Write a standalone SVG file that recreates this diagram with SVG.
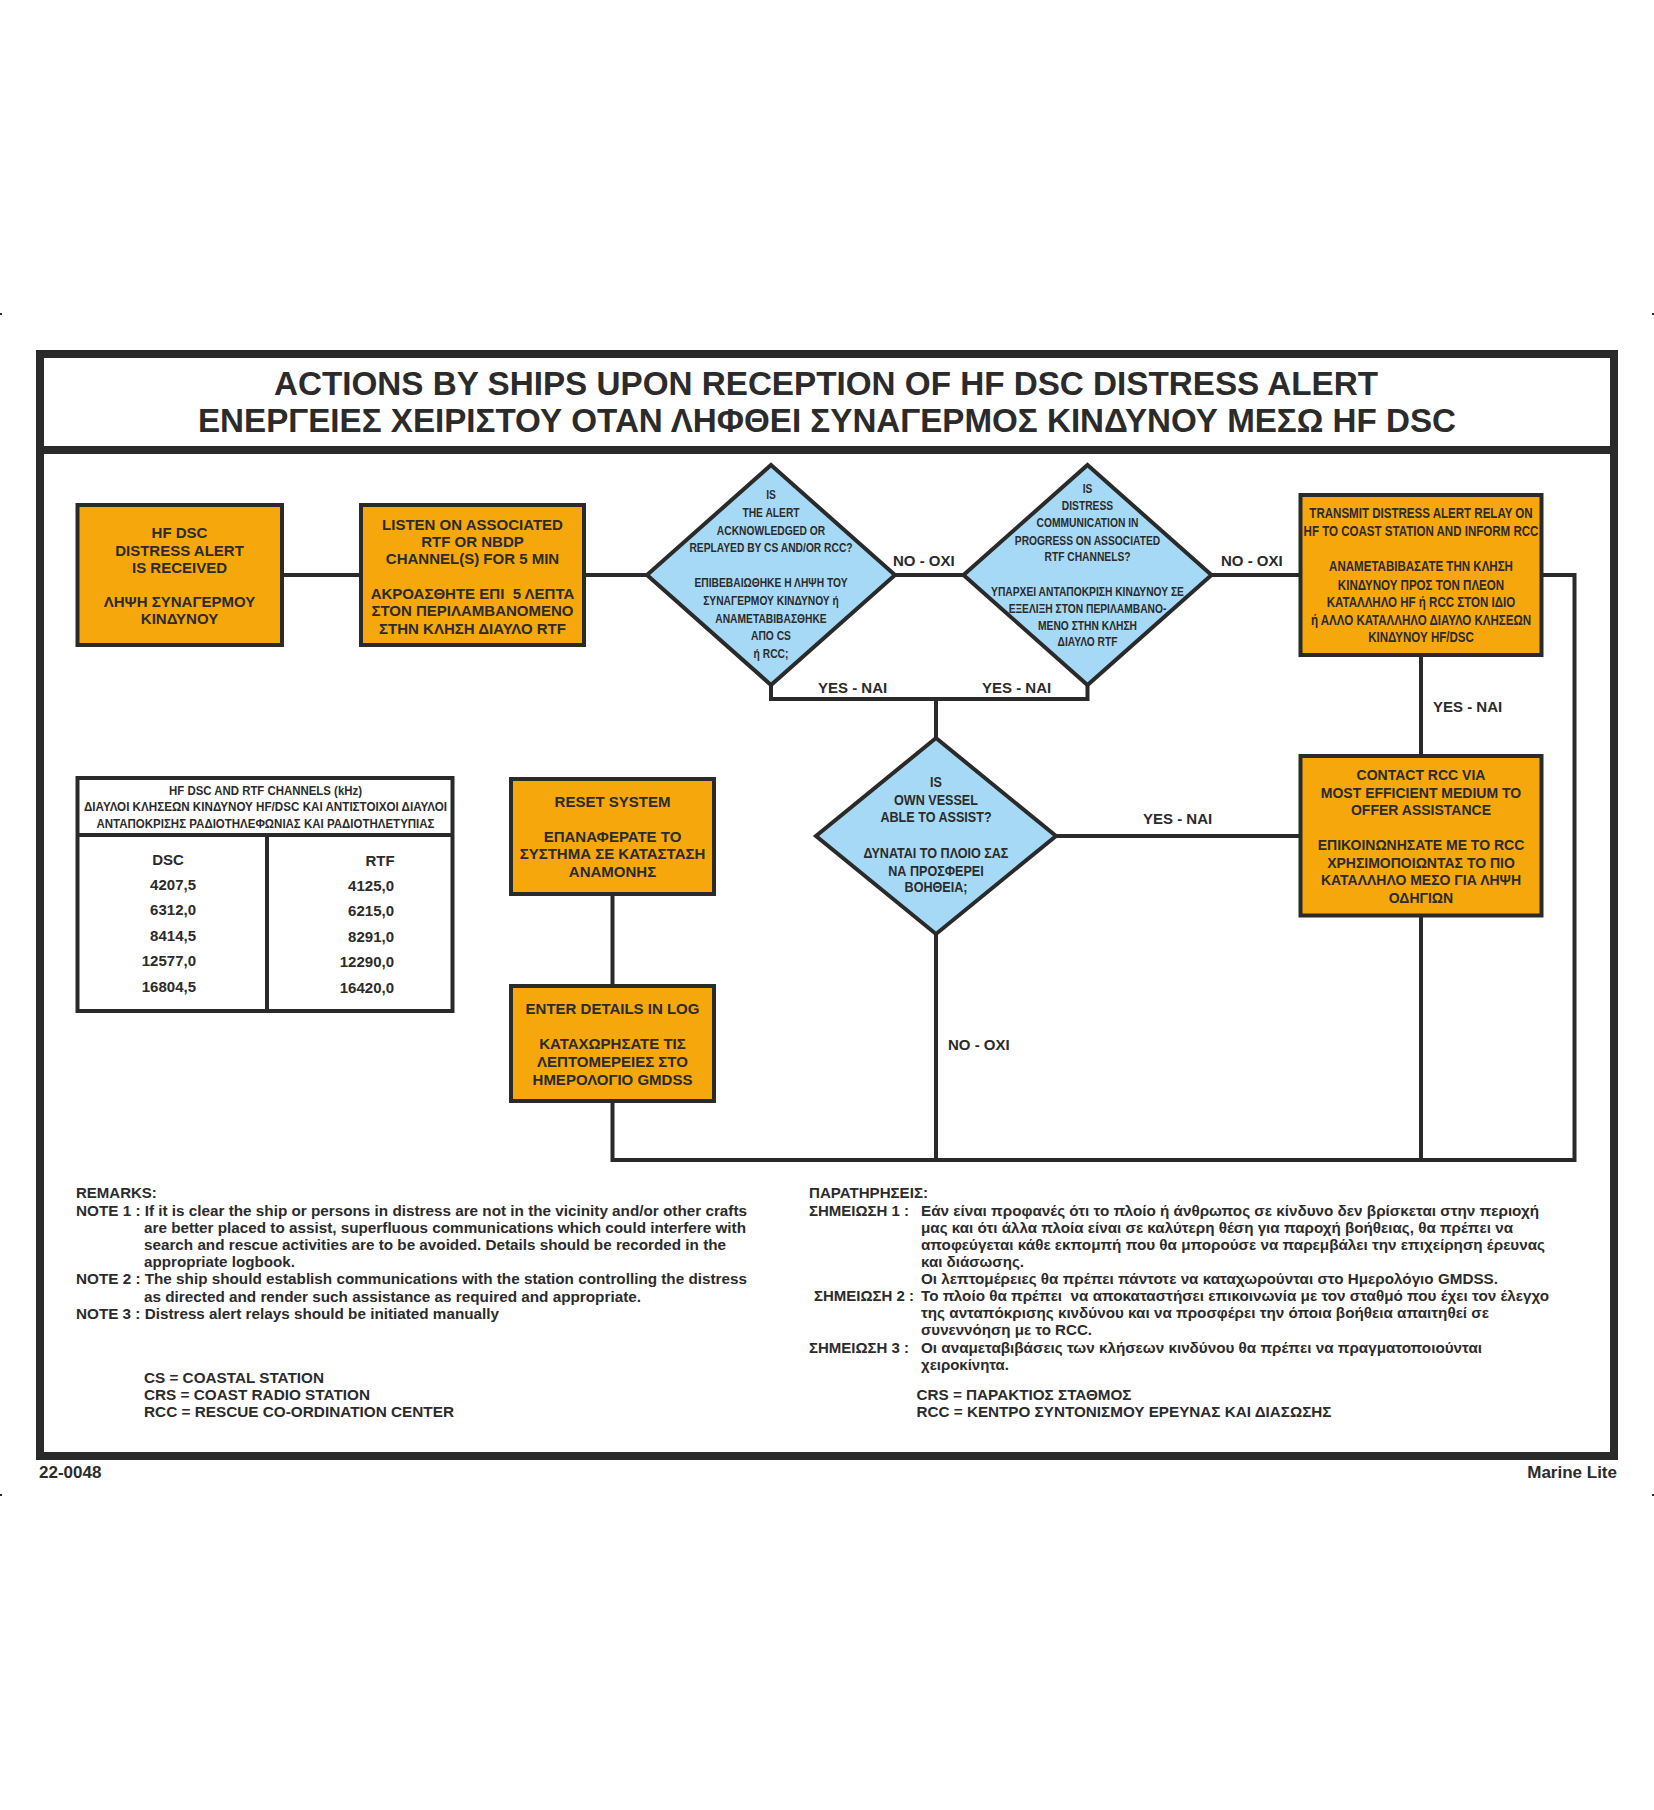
<svg xmlns="http://www.w3.org/2000/svg" width="1654" height="1810" viewBox="0 0 1654 1810">
<style>
text{font-family:"Liberation Sans",Arial,sans-serif;font-weight:bold;fill:#2b2b2b}
.c{text-anchor:middle}
.e{text-anchor:end}
.f15{font-size:15px}
.f14{font-size:14px}
.f13{font-size:13px}
.f13n{font-size:13px;font-weight:normal}
.box{fill:#f6a70b;stroke:#2a2a2a;stroke-width:4}
.dia{fill:#a6d9f5;stroke:#2a2a2a;stroke-width:4;stroke-linejoin:miter}
.ln{fill:none;stroke:#2a2a2a;stroke-width:4}
.tbl{fill:#ffffff;stroke:#2a2a2a;stroke-width:4}
</style>
<rect width="1654" height="1810" fill="#ffffff"/>
<g id="cropmarks" fill="#2a2a2a">
<rect x="0" y="313" width="2" height="2"/>
<rect x="1652" y="313" width="2" height="2"/>
<rect x="0" y="1494" width="2" height="2"/>
<rect x="1652" y="1494" width="2" height="2"/>
</g>
<g id="frame">
<rect x="40" y="354" width="1574" height="1102" fill="none" stroke="#2a2a2a" stroke-width="8"/>
<line x1="40" y1="450" x2="1614" y2="450" stroke="#2a2a2a" stroke-width="8"/>
</g>
<g id="title">
<text class="c" x="826" y="395" font-size="33" textLength="1104" lengthAdjust="spacingAndGlyphs">ACTIONS BY SHIPS UPON RECEPTION OF HF DSC DISTRESS ALERT</text>
<text class="c" x="827" y="432" font-size="33" textLength="1258" lengthAdjust="spacingAndGlyphs">ΕΝΕΡΓΕΙΕΣ ΧΕΙΡΙΣΤΟΥ ΟΤΑΝ ΛΗΦΘΕΙ ΣΥΝΑΓΕΡΜΟΣ ΚΙΝΔΥΝΟΥ ΜΕΣΩ HF DSC</text>
</g>
<g id="connectors">
<line class="ln" x1="281" y1="575" x2="362" y2="575"/>
<line class="ln" x1="583" y1="575" x2="648" y2="575"/>
<line class="ln" x1="894" y1="575" x2="965" y2="575"/>
<line class="ln" x1="1210" y1="575" x2="1301" y2="575"/>
<path class="ln" d="M1541,575 H1574.5 V1160 H612.5 V1101"/>
<line class="ln" x1="1421" y1="655" x2="1421" y2="757"/>
<line class="ln" x1="1421" y1="915" x2="1421" y2="1160"/>
<path class="ln" d="M771,684 V699 H1087.5 V684"/>
<line class="ln" x1="936" y1="699" x2="936" y2="739"/>
<line class="ln" x1="1055" y1="836" x2="1302" y2="836"/>
<line class="ln" x1="936" y1="933" x2="936" y2="1160"/>
<line class="ln" x1="612.5" y1="894" x2="612.5" y2="987"/>
<g class="f15">
<text x="893" y="566">NO - OXI</text>
<text x="1221" y="566">NO - OXI</text>
<text x="818" y="693">YES - NAI</text>
<text x="982" y="693">YES - NAI</text>
<text x="1143" y="824">YES - NAI</text>
<text x="1433" y="712">YES - NAI</text>
<text x="948" y="1050">NO - OXI</text>
</g>
</g>
<g id="node-received">
<rect class="box" x="77.5" y="505" width="204.5" height="140"/>
<g class="c f15">
<text x="179.5" y="538">HF DSC</text>
<text x="179.5" y="555.5">DISTRESS ALERT</text>
<text x="179.5" y="572.5">IS RECEIVED</text>
<text x="179.5" y="607">ΛΗΨΗ ΣΥΝΑΓΕΡΜΟΥ</text>
<text x="179.5" y="624">ΚΙΝΔΥΝΟΥ</text>
</g>
</g>
<g id="node-listen">
<rect class="box" x="361" y="505" width="223" height="140"/>
<g class="c f15">
<text x="472.5" y="529.5">LISTEN ON ASSOCIATED</text>
<text x="472.5" y="547">RTF OR NBDP</text>
<text x="472.5" y="564">CHANNEL(S) FOR 5 MIN</text>
<text x="472.5" y="598.5" xml:space="preserve">ΑΚΡΟΑΣΘΗΤΕ ΕΠΙ  5 ΛΕΠΤΑ</text>
<text x="472.5" y="616">ΣΤΟΝ ΠΕΡΙΛΑΜΒΑΝΟΜΕΝΟ</text>
<text x="472.5" y="633.5">ΣΤΗΝ ΚΛΗΣΗ ΔΙΑΥΛΟ RTF</text>
</g>
</g>
<g id="node-acknowledged">
<polygon class="dia" points="771,465 895,575 771,685 647,575"/>
<g transform="translate(771,0) scale(0.79,1)" class="c f13">
<text x="0" y="499.5">IS</text>
<text x="0" y="517.5">THE ALERT</text>
<text x="0" y="535.5">ACKNOWLEDGED OR</text>
<text x="0" y="552.5">REPLAYED BY CS AND/OR RCC?</text>
<text x="0" y="587.5">ΕΠΙΒΕΒΑΙΩΘΗΚΕ Η ΛΗΨΗ ΤΟΥ</text>
<text x="0" y="605.5">ΣΥΝΑΓΕΡΜΟΥ ΚΙΝΔΥΝΟΥ ή</text>
<text x="0" y="623">ΑΝΑΜΕΤΑΒΙΒΑΣΘΗΚΕ</text>
<text x="0" y="640.5">ΑΠΟ CS</text>
<text x="0" y="658">ή RCC;</text>
</g>
</g>
<g id="node-communication">
<polygon class="dia" points="1087.5,465 1211.5,575 1087.5,685 963.5,575"/>
<g transform="translate(1087.5,0) scale(0.79,1)" class="c f13">
<text x="0" y="493.5">IS</text>
<text x="0" y="510.5">DISTRESS</text>
<text x="0" y="527.5">COMMUNICATION IN</text>
<text x="0" y="545">PROGRESS ON ASSOCIATED</text>
<text x="0" y="561.5">RTF CHANNELS?</text>
<text x="0" y="596">ΥΠΑΡΧΕΙ ΑΝΤΑΠΟΚΡΙΣΗ ΚΙΝΔΥΝΟΥ ΣΕ</text>
<text x="0" y="613">ΕΞΕΛΙΞΗ ΣΤΟΝ ΠΕΡΙΛΑΜΒΑΝΟ-</text>
<text x="0" y="630">ΜΕΝΟ ΣΤΗΝ ΚΛΗΣΗ</text>
<text x="0" y="646.5">ΔΙΑΥΛΟ RTF</text>
</g>
</g>
<g id="node-transmit">
<rect class="box" x="1300.5" y="495" width="241" height="160"/>
<g transform="translate(1421,0) scale(0.77,1)" class="c f15">
<text x="0" y="518.5">TRANSMIT DISTRESS ALERT RELAY ON</text>
<text x="0" y="536.5">HF TO COAST STATION AND INFORM RCC</text>
<text x="0" y="571.5">ΑΝΑΜΕΤΑΒΙΒΑΣΑΤΕ ΤΗΝ ΚΛΗΣΗ</text>
<text x="0" y="590">ΚΙΝΔΥΝΟΥ ΠΡΟΣ ΤΟΝ ΠΛΕΟΝ</text>
<text x="0" y="607.5">ΚΑΤΑΛΛΗΛΟ HF ή RCC ΣΤΟΝ ΙΔΙΟ</text>
<text x="0" y="625">ή ΑΛΛΟ ΚΑΤΑΛΛΗΛΟ ΔΙΑΥΛΟ ΚΛΗΣΕΩΝ</text>
<text x="0" y="642.5">ΚΙΝΔΥΝΟΥ HF/DSC</text>
</g>
</g>
<g id="node-assist">
<polygon class="dia" points="936,738 1056,836 936,934 816,836"/>
<g transform="translate(936,0) scale(0.9,1)" class="c f14">
<text x="0" y="787.5">IS</text>
<text x="0" y="805">OWN VESSEL</text>
<text x="0" y="822.5">ABLE TO ASSIST?</text>
<text x="0" y="858">ΔΥΝΑΤΑΙ ΤΟ ΠΛΟΙΟ ΣΑΣ</text>
<text x="0" y="876">ΝΑ ΠΡΟΣΦΕΡΕΙ</text>
<text x="0" y="892.5">ΒΟΗΘΕΙΑ;</text>
</g>
</g>
<g id="node-contact">
<rect class="box" x="1300.5" y="756" width="241" height="159.5"/>
<g class="c f14">
<text x="1421" y="780">CONTACT RCC VIA</text>
<text x="1421" y="797.5">MOST EFFICIENT MEDIUM TO</text>
<text x="1421" y="815">OFFER ASSISTANCE</text>
<text x="1421" y="850">ΕΠΙΚΟΙΝΩΝΗΣΑΤΕ ΜΕ ΤΟ RCC</text>
<text x="1421" y="867.5">ΧΡΗΣΙΜΟΠΟΙΩΝΤΑΣ ΤΟ ΠΙΟ</text>
<text x="1421" y="885">ΚΑΤΑΛΛΗΛΟ ΜΕΣΟ ΓΙΑ ΛΗΨΗ</text>
<text x="1421" y="902.5">ΟΔΗΓΙΩΝ</text>
</g>
</g>
<g id="node-reset">
<rect class="box" x="511" y="779" width="203" height="115"/>
<g class="c f15">
<text x="612.5" y="806.5">RESET SYSTEM</text>
<text x="612.5" y="841.5">ΕΠΑΝΑΦΕΡΑΤΕ ΤΟ</text>
<text x="612.5" y="859">ΣΥΣΤΗΜΑ ΣΕ ΚΑΤΑΣΤΑΣΗ</text>
<text x="612.5" y="877">ΑΝΑΜΟΝΗΣ</text>
</g>
</g>
<g id="node-log">
<rect class="box" x="511" y="986" width="203" height="115"/>
<g class="c f15">
<text x="612.5" y="1014">ENTER DETAILS IN LOG</text>
<text x="612.5" y="1049">ΚΑΤΑΧΩΡΗΣΑΤΕ ΤΙΣ</text>
<text x="612.5" y="1066.5">ΛΕΠΤΟΜΕΡΕΙΕΣ ΣΤΟ</text>
<text x="612.5" y="1084.5">ΗΜΕΡΟΛΟΓΙΟ GMDSS</text>
</g>
</g>
<g id="channels-table">
<rect class="tbl" x="77.5" y="778" width="375" height="233"/>
<line class="ln" x1="77.5" y1="835" x2="452.5" y2="835"/>
<line class="ln" x1="267" y1="835" x2="267" y2="1011"/>
<g class="c f13n">
<text x="265.5" y="795" textLength="193" lengthAdjust="spacingAndGlyphs">HF DSC AND RTF CHANNELS (kHz)</text>
<text x="265.5" y="811" textLength="363" lengthAdjust="spacingAndGlyphs">ΔΙΑΥΛΟΙ ΚΛΗΣΕΩΝ ΚΙΝΔΥΝΟΥ HF/DSC ΚΑΙ ΑΝΤΙΣΤΟΙΧΟΙ ΔΙΑΥΛΟΙ</text>
<text x="265.5" y="827.5" textLength="338" lengthAdjust="spacingAndGlyphs">ΑΝΤΑΠΟΚΡΙΣΗΣ ΡΑΔΙΟΤΗΛΕΦΩΝΙΑΣ ΚΑΙ ΡΑΔΙΟΤΗΛΕΤΥΠΙΑΣ</text>
</g>
<g class="c f15">
<text x="168" y="865">DSC</text>
<text x="380" y="866">RTF</text>
</g>
<g class="e f15">
<text x="196" y="890">4207,5</text>
<text x="196" y="915">6312,0</text>
<text x="196" y="941">8414,5</text>
<text x="196" y="966">12577,0</text>
<text x="196" y="992">16804,5</text>
<text x="394" y="891">4125,0</text>
<text x="394" y="916">6215,0</text>
<text x="394" y="942">8291,0</text>
<text x="394" y="967">12290,0</text>
<text x="394" y="993">16420,0</text>
</g>
</g>
<g id="remarks-en" class="f15">
<text x="76" y="1198">REMARKS:</text>
<text x="76" y="1216" textLength="671" lengthAdjust="spacingAndGlyphs">NOTE 1 : If it is clear the ship or persons in distress are not in the vicinity and/or other crafts</text>
<text x="144" y="1233" textLength="602" lengthAdjust="spacingAndGlyphs">are better placed to assist, superfluous communications which could interfere with</text>
<text x="144" y="1250" textLength="582" lengthAdjust="spacingAndGlyphs">search and rescue activities are to be avoided. Details should be recorded in the</text>
<text x="144" y="1267" textLength="151" lengthAdjust="spacingAndGlyphs">appropriate logbook.</text>
<text x="76" y="1284" textLength="671" lengthAdjust="spacingAndGlyphs">NOTE 2 : The ship should establish communications with the station controlling the distress</text>
<text x="144" y="1302" textLength="497" lengthAdjust="spacingAndGlyphs">as directed and render such assistance as required and appropriate.</text>
<text x="76" y="1319" textLength="423" lengthAdjust="spacingAndGlyphs">NOTE 3 : Distress alert relays should be initiated manually</text>
<text x="144" y="1383" textLength="180" lengthAdjust="spacingAndGlyphs">CS = COASTAL STATION</text>
<text x="144" y="1400" textLength="226" lengthAdjust="spacingAndGlyphs">CRS = COAST RADIO STATION</text>
<text x="144" y="1417" textLength="310" lengthAdjust="spacingAndGlyphs">RCC = RESCUE CO-ORDINATION CENTER</text>
</g>
<g id="remarks-gr" class="f15">
<text x="809" y="1198" textLength="119" lengthAdjust="spacingAndGlyphs">ΠΑΡΑΤΗΡΗΣΕΙΣ:</text>
<text x="809" y="1216">ΣΗΜΕΙΩΣΗ 1 :</text>
<text x="921" y="1216" textLength="618" lengthAdjust="spacingAndGlyphs">Εάν είναι προφανές ότι το πλοίο ή άνθρωπος σε κίνδυνο δεν βρίσκεται στην περιοχή</text>
<text x="921" y="1233" textLength="592" lengthAdjust="spacingAndGlyphs">μας και ότι άλλα πλοία είναι σε καλύτερη θέση για παροχή βοήθειας, θα πρέπει να</text>
<text x="921" y="1250" textLength="624" lengthAdjust="spacingAndGlyphs">αποφεύγεται κάθε εκπομπή που θα μπορούσε να παρεμβάλει την επιχείρηση έρευνας</text>
<text x="921" y="1267" textLength="103" lengthAdjust="spacingAndGlyphs">και διάσωσης.</text>
<text x="921" y="1283.5" textLength="577" lengthAdjust="spacingAndGlyphs">Οι λεπτομέρειες θα πρέπει πάντοτε να καταχωρούνται στο Ημερολόγιο GMDSS.</text>
<text x="814" y="1301">ΣΗΜΕΙΩΣΗ 2 :</text>
<text x="921" y="1301" textLength="628" lengthAdjust="spacingAndGlyphs" xml:space="preserve">Το πλοίο θα πρέπει  να αποκαταστήσει επικοινωνία με τον σταθμό που έχει τον έλεγχο</text>
<text x="921" y="1318" textLength="568" lengthAdjust="spacingAndGlyphs">της ανταπόκρισης κινδύνου και να προσφέρει την όποια βοήθεια απαιτηθεί σε</text>
<text x="921" y="1335" textLength="171" lengthAdjust="spacingAndGlyphs">συνεννόηση με το RCC.</text>
<text x="809" y="1353">ΣΗΜΕΙΩΣΗ 3 :</text>
<text x="921" y="1353" textLength="561" lengthAdjust="spacingAndGlyphs">Οι αναμεταβιβάσεις των κλήσεων κινδύνου θα πρέπει να πραγματοποιούνται</text>
<text x="921" y="1369.5" textLength="88" lengthAdjust="spacingAndGlyphs">χειροκίνητα.</text>
<text x="916.5" y="1399.5" textLength="215" lengthAdjust="spacingAndGlyphs">CRS = ΠΑΡΑΚΤΙΟΣ ΣΤΑΘΜΟΣ</text>
<text x="916.5" y="1417" textLength="415" lengthAdjust="spacingAndGlyphs">RCC = ΚΕΝΤΡΟ ΣΥΝΤΟΝΙΣΜΟΥ ΕΡΕΥΝΑΣ ΚΑΙ ΔΙΑΣΩΣΗΣ</text>
</g>
<g id="footer">
<text x="39" y="1478" font-size="17">22-0048</text>
<text class="e" x="1617" y="1478" font-size="17">Marine Lite</text>
</g>
</svg>
